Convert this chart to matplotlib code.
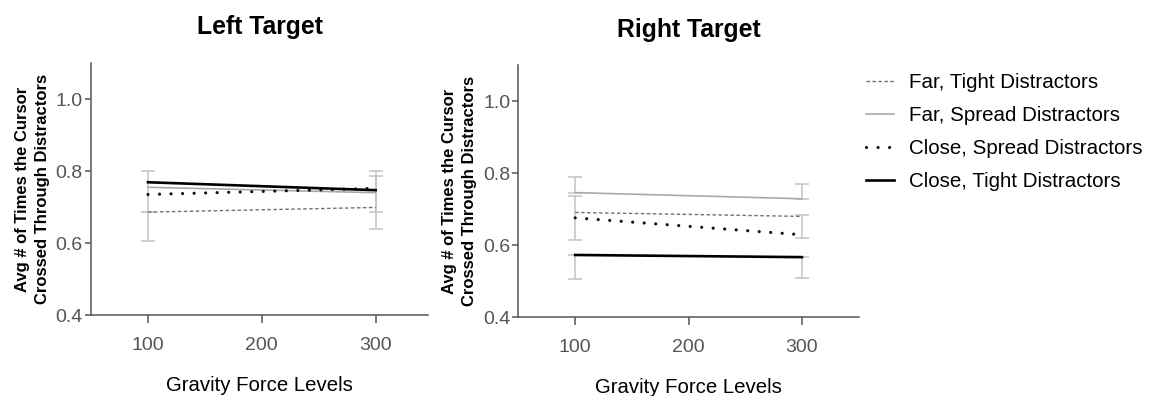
import matplotlib
matplotlib.use('Agg')
import matplotlib.pyplot as plt
from matplotlib.lines import Line2D

plt.rcParams['font.family'] = ['Liberation Sans', 'DejaVu Sans']

x_levels = [100, 300]
x_ticks = [100, 200, 300]
y_ticks = [0.4, 0.6, 0.8, 1.0]
series_names = ["Far, Tight Distractors", "Far, Spread Distractors",
                "Close, Spread Distractors", "Close, Tight Distractors"]

left_far_tight = [0.686, 0.699]
left_far_spread = [0.755, 0.740]
left_close_spread = [0.735, 0.752]
left_close_tight = [0.769, 0.747]

right_far_tight = [0.691, 0.680]
right_far_spread = [0.746, 0.729]
right_close_spread = [0.676, 0.629]
right_close_tight = [0.573, 0.567]

left_err_x = [100, 100, 300, 300]
left_err_low = [0.605, 0.685, 0.640, 0.687]
left_err_high = [0.685, 0.801, 0.786, 0.799]

right_err_x = [100, 100, 100, 300, 300, 300]
right_err_low = [0.746, 0.614, 0.507, 0.729, 0.619, 0.510]
right_err_high = [0.790, 0.737, 0.573, 0.769, 0.684, 0.567]

styles = [
    dict(color='#707070', lw=1.0, linestyle=(0, (2.5, 1.8))),
    dict(color='#a8a8a8', lw=1.2, linestyle='-'),
    dict(color='#111111', lw=2.3, linestyle=(0, (0.01, 3.6)), dash_capstyle='round'),
    dict(color='#000000', lw=1.9, linestyle='-'),
]

fig = plt.figure(figsize=(11.54, 3.96), dpi=100)
ax_l = fig.add_axes([0.0789, 0.2045, 0.292, 0.636])
ax_r = fig.add_axes([0.4493, 0.1987, 0.2947, 0.637])

panels = [
    (ax_l, "Left Target", [left_far_tight, left_far_spread, left_close_spread, left_close_tight],
     left_err_x, left_err_low, left_err_high, (50, 346), 21),
    (ax_r, "Right Target", [right_far_tight, right_far_spread, right_close_spread, right_close_tight],
     right_err_x, right_err_low, right_err_high, (50, 350), 20),
]

for ax, title, data, ex, elo, ehi, xl, tpad in panels:
    mid = [(a + b) / 2 for a, b in zip(elo, ehi)]
    ax.errorbar(ex, mid, yerr=[[m - a for m, a in zip(mid, elo)], [b - m for m, b in zip(mid, ehi)]],
                fmt='none', ecolor='#c4c4c4', elinewidth=1.1, capsize=5, capthick=1.1, zorder=1)
    for vals, st in zip(data, styles):
        ax.plot(x_levels, vals, zorder=2, **st)
    ax.set_xlim(*xl)
    ax.set_ylim(0.4, 1.1)
    ax.set_xticks(x_ticks)
    ax.set_yticks(y_ticks)
    ax.set_yticklabels([f"{v:.1f}" for v in y_ticks])
    for s in ['top', 'right']:
        ax.spines[s].set_visible(False)
    for s in ['left', 'bottom']:
        ax.spines[s].set_color('#555555')
        ax.spines[s].set_linewidth(1.1)
    ax.tick_params(axis='x', length=6, width=1.1, color='#555555', labelcolor='#555555',
                   labelsize=14, pad=9.5)
    ax.tick_params(axis='y', length=4, width=1.1, color='#555555', labelcolor='#555555',
                   labelsize=14, pad=2)
    ax.set_title(title, fontsize=17.8, fontweight='bold', pad=tpad)
    ax.set_xlabel("Gravity Force Levels", fontsize=14.7, labelpad=16)
    ax.set_ylabel("Avg # of Times the Cursor\nCrossed Through Distractors", fontsize=12,
                  fontweight='bold', labelpad=4, linespacing=1.45)

handles = [Line2D([], [], **st) for st in styles]
fig.legend(handles, series_names, loc='upper left', bbox_to_anchor=(0.734, 0.862),
           frameon=False, fontsize=14.8, handlelength=1.4, handletextpad=0.7,
           labelspacing=0.68)

fig.savefig('out.png', dpi=100)
